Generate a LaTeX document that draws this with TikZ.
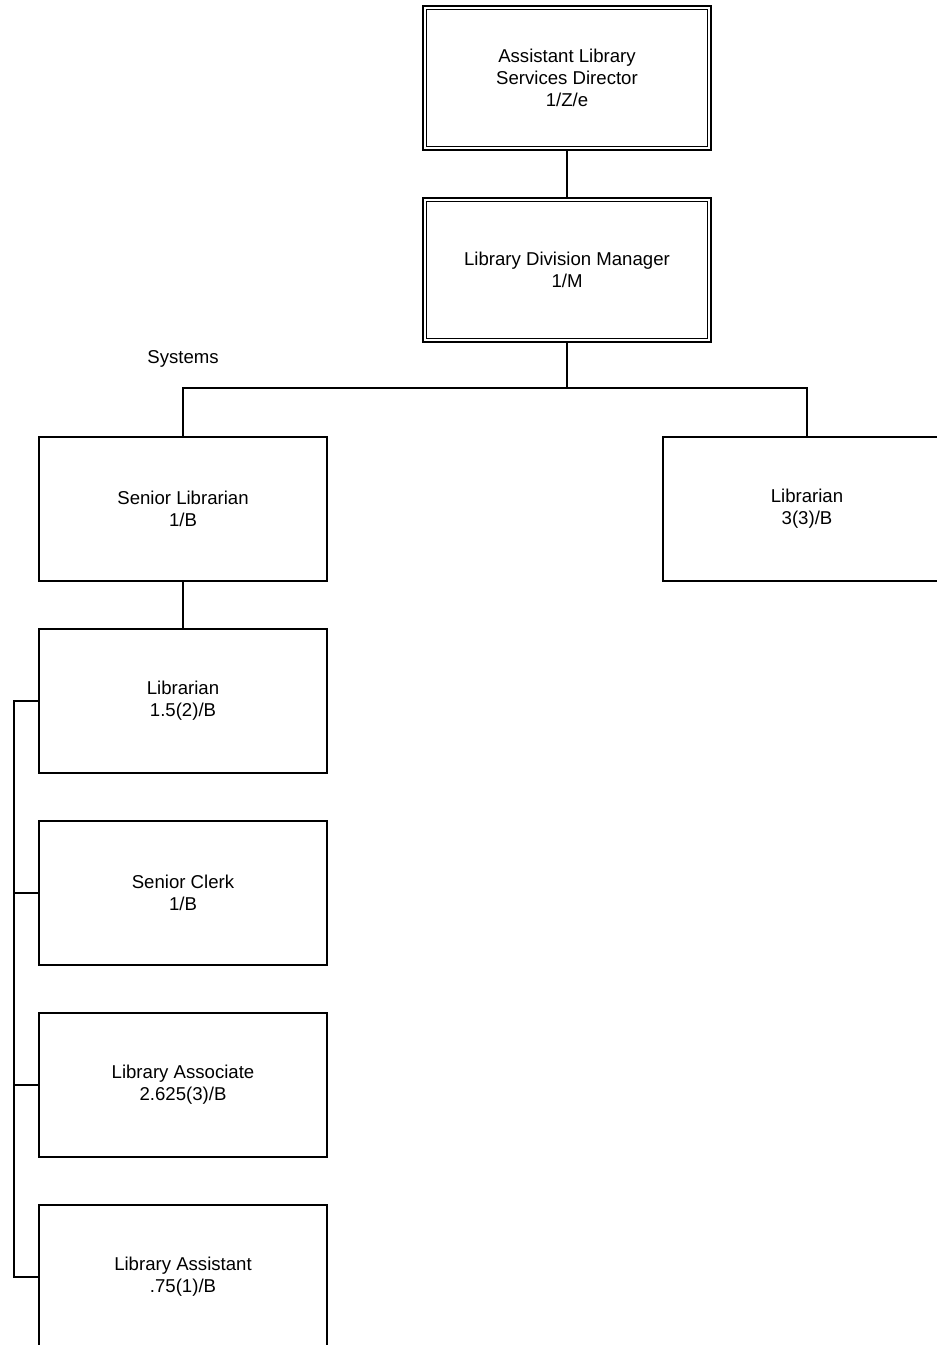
\documentclass[tikz,border=0pt]{standalone}
\usepackage{fontspec}
\setmainfont{Liberation Sans}
\usetikzlibrary{positioning}
\begin{document}
\begin{tikzpicture}[x=1pt,y=-1pt,
  box/.style={draw,line width=1.6pt,minimum width=288pt,minimum height=144pt,inner sep=0pt,align=center,font=\fontsize{18.6}{22}\selectfont},
  conn/.style={line width=1.8pt},
  lbl/.style={font=\fontsize{18.6}{22}\selectfont,inner sep=0pt}]
\useasboundingbox (0,0) rectangle (937,1345);
\clip (0,0) rectangle (937,1345);
\fill[white] (0,0) rectangle (937,1345);
\node[box] (dir) at (567,78) {Assistant Library\\Services Director\\1/Z/e};
\node[box] (mgr) at (567,270) {Library Division Manager\\1/M};
\foreach \n in {dir,mgr}{
  \draw[line width=0.9pt] ([xshift=4pt,yshift=-4pt]\n.north west) rectangle ([xshift=-4pt,yshift=4pt]\n.south east);
}
\node[lbl] (sys) at (183,359) {Systems};
\node[box] (sl) at (183,509) {Senior Librarian\\1/B};
\node[box] (lr) at (807,509) {Librarian\\3(3)/B};
\node[box] (lib) at (183,701) {Librarian\\1.5(2)/B};
\node[box] (sc) at (183,893) {Senior Clerk\\1/B};
\node[box] (la) at (183,1085) {Library Associate\\2.625(3)/B};
\node[box] (las) at (183,1277) {Library Assistant\\.75(1)/B};
\coordinate (bus) at (567,388);
\coordinate (rail) at (14,701);
\draw[conn] (dir.south) -- (mgr.north);
\draw[conn] (mgr.south) -- (bus);
\draw[conn] (sl.north) |- (bus) -| (lr.north);
\draw[conn] (sl.south) -- (lib.north);
\draw[conn] (lib.west) -| (rail) |- (las.west);
\draw[conn] (sc.west) -- (sc.west -| rail);
\draw[conn] (la.west) -- (la.west -| rail);
\end{tikzpicture}
\end{document}
